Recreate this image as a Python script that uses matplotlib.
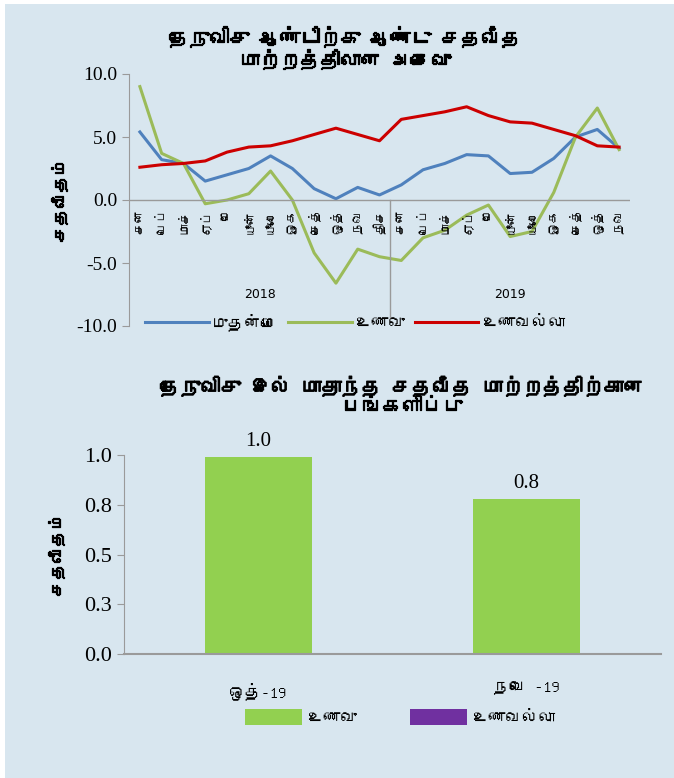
import matplotlib
matplotlib.use("Agg")
import matplotlib.pyplot as plt
import matplotlib.patheffects as pe
from matplotlib import font_manager
from matplotlib.ft2font import FT2Font
import numpy as np

# data
months = ["சன", "பெப்", "மாச்", "ஏப்", "மே", "யூன்", "யூலை", "ஓக", "செத்", "ஒத்", "நவ", "திச",
          "சன", "பெப்", "மாச்", "ஏப்", "மே", "யூன்", "யூலை", "ஓக", "செத்", "ஒத்", "நவ"]
years = ["2018", "2019"]
headline = [5.4, 3.2, 2.9, 1.5, 2.0, 2.5, 3.5, 2.5, 0.9, 0.1, 1.0, 0.4,
            1.2, 2.4, 2.9, 3.6, 3.5, 2.1, 2.2, 3.3, 5.0, 5.6, 4.1]
food = [9.0, 3.7, 2.9, -0.3, 0.0, 0.5, 2.3, 0.0, -4.2, -6.6, -3.9, -4.5,
        -4.8, -3.0, -2.4, -1.2, -0.4, -2.9, -2.5, 0.6, 5.0, 7.3, 4.0]
nonfood = [2.6, 2.8, 2.9, 3.1, 3.8, 4.2, 4.3, 4.7, 5.2, 5.7, 5.2, 4.7,
           6.4, 6.7, 7.0, 7.4, 6.7, 6.2, 6.1, 5.6, 5.1, 4.3, 4.2]
series_names = ["முதன்மை", "உணவு", "உணவல்லா"]

bar_cats = ["ஒத்-19", "நவெ -19"]
bar_food = [0.99, 0.78]
bar_nonfood = [0.0, 0.0]
bar_ticks = [0, 0.25, 0.5, 0.75, 1.0]
bar_tick_labels = ["0.0", "0.3", "0.5", "0.8", "1.0"]

title_top = "தேநுவிசு ஆண்டிற்கு ஆண்டு சதவீத\nமாற்றத்திலான அசைவு"
title_bot = "தேநுவிசு இல் மாதாந்த சதவீத மாற்றத்திற்கான\nபங்களிப்பு"
ylab = "சதவீதம்"

# find a font with tamil glyphs, if any
tamil = []
for f in font_manager.fontManager.ttflist:
    try:
        if 0x0B95 in FT2Font(f.fname).get_charmap() and f.name not in tamil:
            tamil.append(f.name)
    except Exception:
        pass
plt.rcParams["font.family"] = tamil + ["DejaVu Sans"]
serif = ["Liberation Serif", "DejaVu Serif"]
heavy = [pe.withStroke(linewidth=0.9, foreground="black")]

bg = "#D8E6EF"
grey = "#9A9A9A"
fig = plt.figure(figsize=(6.74, 7.78), dpi=100, facecolor="white")
fig.patches.append(plt.Rectangle((5 / 674, 0), 1, 1 - 4 / 778, transform=fig.transFigure,
                                 facecolor=bg, edgecolor="none", zorder=-1))

# ---- top chart
ax = fig.add_axes([129 / 674, 1 - 326 / 778, 501 / 674, 252 / 778])
ax.set_facecolor("none")
x = np.arange(len(months))
ax.plot(x, headline, color="#4F81BD", lw=2.2, label=series_names[0])
ax.plot(x, food, color="#9BBB59", lw=2.2, label=series_names[1])
ax.plot(x, nonfood, color="#CC0000", lw=2.2, label=series_names[2])
ax.set_xlim(-0.5, len(months) - 0.5)
ax.set_ylim(-10, 10)
ax.set_yticks([-10, -5, 0, 5, 10])
ax.set_yticklabels(["%.1f" % v for v in [-10, -5, 0, 5, 10]], fontfamily=serif, fontsize=14)
ax.set_xticks([])
for s in ["top", "right", "bottom"]:
    ax.spines[s].set_visible(False)
ax.spines["left"].set_color(grey)
ax.tick_params(axis="y", colors=grey, labelcolor="black", length=5)
ax.axhline(0, color=grey, lw=1)
ax.plot([11.5, 11.5], [0, -9.4], color=grey, lw=1)
for i, m in enumerate(months):
    ax.text(i, -0.7, m, rotation=90, ha="center", va="top", fontsize=9)
ax.text(5.5, -7.5, years[0], ha="center", va="center", fontsize=9, fontfamily="DejaVu Sans")
ax.text(17.0, -7.5, years[1], ha="center", va="center", fontsize=9, fontfamily="DejaVu Sans")
ax.set_ylabel(ylab, fontsize=12, fontweight="bold", labelpad=6, path_effects=heavy)
fig.text(345 / 674, 1 - 48 / 778, title_top, ha="center", va="center", fontsize=14.5,
         fontweight="bold", linespacing=1.1, path_effects=heavy)
fig.legend(loc="center", bbox_to_anchor=(355 / 674, 1 - 322 / 778), ncol=3, frameon=False,
           fontsize=12, handlelength=3.8, columnspacing=0.6, handletextpad=0.2)

# ---- bottom chart
bx = fig.add_axes([124 / 674, 1 - 654 / 778, 537 / 674, 199 / 778])
bx.set_facecolor("none")
xb = np.arange(len(bar_cats))
b1 = bx.bar(xb, bar_food, width=0.4, color="#92D050", label=series_names[1])
bx.bar(xb, bar_nonfood, width=0.4, color="#7030A0", label=series_names[2])
for r, v in zip(b1, bar_food):
    bx.text(r.get_x() + r.get_width() / 2, v + 0.03, "%.1f" % v, ha="center", va="bottom",
            fontsize=15, fontfamily=serif)
bx.set_xlim(-0.5, len(bar_cats) - 0.5)
bx.set_ylim(0, 1.0)
bx.set_yticks(bar_ticks)
bx.set_yticklabels(bar_tick_labels, fontfamily=serif, fontsize=16)
bx.set_xticks(xb)
bx.set_xticklabels(bar_cats, fontsize=12)
bx.tick_params(axis="x", length=0, pad=20)
bx.tick_params(axis="y", colors=grey, labelcolor="black", length=5)
for s in ["top", "right"]:
    bx.spines[s].set_visible(False)
bx.spines["left"].set_color(grey)
bx.spines["bottom"].set_color(grey)
bx.spines["bottom"].set_linewidth(1.5)
bx.set_ylabel(ylab, fontsize=12, fontweight="bold", labelpad=14, path_effects=heavy)
fig.text(402 / 674, 1 - 395 / 778, title_bot, ha="center", va="center", fontsize=14.5,
         fontweight="bold", linespacing=1.1, path_effects=heavy)
bx.legend(loc="center", bbox_to_anchor=(400 / 674, 1 - 717 / 778), bbox_transform=fig.transFigure,
          ncol=2, frameon=False, fontsize=12, handlelength=3.4, handleheight=1.1,
          columnspacing=3.2, handletextpad=0.3)

fig.savefig("out.png", dpi=100, facecolor=fig.get_facecolor())
